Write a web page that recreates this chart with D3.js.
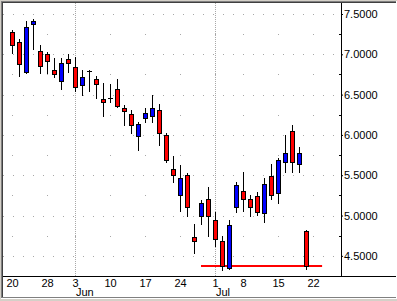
<!DOCTYPE html>
<html>
<head>
<meta charset="utf-8">
<script src="https://cdn.jsdelivr.net/npm/d3@7"></script>
<style>
  body { margin: 0; background: #d4d0c8; }
  svg { display: block; }
  text { font-family: Arial, "Liberation Sans", sans-serif; font-size: 11px; fill: #000; }
</style>
</head>
<body>
<div id="wrapper"></div>
<script>
// trading days, May 20 .. Jul 19
const dates = ["May 20","May 21","May 22","May 23","May 24","May 28","May 29","May 30","May 31",
  "Jun 3","Jun 4","Jun 5","Jun 6","Jun 7","Jun 10","Jun 11","Jun 12","Jun 13","Jun 14",
  "Jun 17","Jun 18","Jun 19","Jun 20","Jun 21","Jun 24","Jun 25","Jun 26","Jun 27","Jun 28",
  "Jul 1","Jul 2","Jul 3","Jul 5","Jul 8","Jul 9","Jul 10","Jul 11","Jul 12",
  "Jul 15","Jul 16","Jul 17","Jul 18","Jul 19"];
const opens  = [7.28,7.15,6.78,7.38,7.04,7.01,6.80,6.67,6.94, 6.84,6.62,6.79,6.69,6.45,6.46,6.57,6.34,6.26,5.99,
  6.21,6.23,6.31,6.00,5.58,5.26,5.50,4.73,5.00,5.21, 4.95,4.69,4.35,5.10,5.31,5.20,5.24,5.03,5.49,
  5.28,5.66,6.05,5.64,4.81];
const highs  = [7.30,7.19,7.41,7.44,7.12,7.03,6.95,6.95,7.00, 6.97,6.81,6.81,6.73,6.65,6.63,6.69,6.37,6.31,6.16,
  6.33,6.50,6.38,6.03,5.74,5.63,5.53,4.90,5.19,5.35, 5.04,4.75,4.94,5.41,5.54,5.25,5.29,5.47,5.64,
  5.71,6.00,6.12,5.85,4.82];
const lows   = [7.02,6.73,6.77,7.07,6.77,6.77,6.72,6.57,6.78, 6.54,6.50,6.55,6.46,6.23,6.41,6.35,6.12,6.03,5.81,
  6.16,6.16,5.87,5.66,5.41,5.06,4.99,4.53,4.90,4.75, 4.62,4.33,4.34,5.04,5.06,4.99,5.01,4.92,5.21,
  5.16,5.54,5.54,5.54,4.34];
const closes = [7.11,6.88,7.34,7.41,6.85,6.92,6.75,6.89,6.89, 6.60,6.72,6.79,6.63,6.41,6.46,6.36,6.30,6.12,6.13,
  6.27,6.34,6.02,5.69,5.50,5.47,5.10,4.69,5.15,5.00, 4.71,4.37,4.88,5.38,5.20,5.10,5.04,5.39,5.26,
  5.69,5.78,5.67,5.78,4.38];

// axis labels
const yTicks = [4.5, 5.0, 5.5, 6.0, 6.5, 7.0, 7.5];
const yMinor = [4.75, 5.25, 5.75, 6.25, 6.75, 7.25];
const weekIdx = [0, 5, 9, 14, 19, 24, 29, 33, 38, 43];   // 43 = Jul 22 (no bar yet)
const weekLabels = ["20", "28", "3", "10", "17", "24", "1", "8", "15", "22"];
const monthIdx = [9, 29];
const monthLabels = ["Jun", "Jul"];

// drawn support line
const supportLevel = 4.375;
const supportFrom = 27, supportTo = 44.3;

const width = 397, height = 301;
const plot = { left: 3, right: 341, top: 3, bottom: 276 };

const svg = d3.select("#wrapper").append("svg")
  .attr("width", width).attr("height", height);

// window-style sunken frame
svg.append("rect").attr("width", width).attr("height", height).attr("fill", "#d4d0c8");
svg.append("rect").attr("x", 1).attr("y", 1).attr("width", 396).attr("height", 298).attr("fill", "#fff");
svg.append("rect").attr("x", 1).attr("y", 1).attr("width", 395).attr("height", 297).attr("fill", "#808080");
svg.append("rect").attr("x", 2).attr("y", 2).attr("width", 394).attr("height", 295).attr("fill", "#404040");
svg.append("rect").attr("x", 3).attr("y", 3).attr("width", 393).attr("height", 294).attr("fill", "#fff");

const x = d3.scaleLinear().domain([-9 / 7, 47]).range([plot.left, plot.right]);
const y = d3.scaleLinear().domain([4.25, 7.5]).range([plot.bottom, 14]);
const px = (v) => Math.round(v) + 0.5;

const grid = svg.append("g").attr("stroke", "#a8a8a8").attr("shape-rendering", "crispEdges");

// major horizontal rows
grid.selectAll(".hmaj").data(yTicks).join("line")
  .attr("x1", plot.left).attr("x2", plot.right)
  .attr("y1", (d) => px(y(d))).attr("y2", (d) => px(y(d)))
  .attr("stroke-dasharray", "1,9");

// month separators
grid.selectAll(".vmon").data(monthIdx).join("line")
  .attr("x1", (d) => px(x(d))).attr("x2", (d) => px(x(d)))
  .attr("y1", plot.top).attr("y2", plot.bottom)
  .attr("stroke-dasharray", "1,1");

// weekly dots on the quarter rows
const dots = [];
weekIdx.forEach((w) => yMinor.forEach((v) => dots.push([w, v])));
svg.append("g").selectAll("rect").data(dots).join("rect")
  .attr("x", (d) => Math.round(x(d[0]))).attr("y", (d) => Math.round(y(d[1])))
  .attr("width", 1).attr("height", 1).attr("fill", "#a8a8a8");

// support line
svg.append("line")
  .attr("x1", x(supportFrom)).attr("x2", x(supportTo))
  .attr("y1", y(supportLevel)).attr("y2", y(supportLevel))
  .attr("stroke", "#ff0000").attr("stroke-width", 2);

// candles
const bars = svg.append("g").attr("shape-rendering", "crispEdges");
const idx = d3.range(dates.length);

bars.selectAll(".wick").data(idx).join("line")
  .attr("x1", (i) => px(x(i))).attr("x2", (i) => px(x(i)))
  .attr("y1", (i) => Math.round(y(highs[i]))).attr("y2", (i) => Math.round(y(lows[i])) + 1)
  .attr("stroke", "#000");

bars.selectAll(".body").data(idx.filter((i) => Math.abs(opens[i] - closes[i]) > 0.005)).join("rect")
  .attr("x", (i) => Math.round(x(i)) - 1.5)
  .attr("y", (i) => px(y(Math.max(opens[i], closes[i]))))
  .attr("width", 4)
  .attr("height", (i) => Math.max(1, Math.round(y(Math.min(opens[i], closes[i]))) - Math.round(y(Math.max(opens[i], closes[i])))))
  .attr("fill", (i) => (closes[i] > opens[i] ? "#0000ff" : "#ff0000"))
  .attr("stroke", "#000");

bars.selectAll(".doji").data(idx.filter((i) => Math.abs(opens[i] - closes[i]) <= 0.005)).join("line")
  .attr("x1", (i) => Math.round(x(i)) - 2).attr("x2", (i) => Math.round(x(i)) + 3)
  .attr("y1", (i) => px(y(opens[i]))).attr("y2", (i) => px(y(opens[i])))
  .attr("stroke", "#000");

// axes
const yAxis = svg.append("g")
  .attr("transform", `translate(${plot.right},0)`)
  .call(d3.axisRight(y).tickValues(yTicks).tickSize(2).tickPadding(1).tickFormat(d3.format(".4f")));
yAxis.select(".domain").remove();
yAxis.selectAll("text").style("font-family", "Arial, 'Liberation Sans', sans-serif").style("font-size", "11px");

svg.append("g").selectAll("line").data(yMinor).join("line")
  .attr("x1", plot.right - 2).attr("x2", plot.right)
  .attr("y1", (d) => px(y(d))).attr("y2", (d) => px(y(d)))
  .attr("stroke", "#000").attr("shape-rendering", "crispEdges");

const xAxis = svg.append("g")
  .attr("transform", `translate(0,${plot.bottom})`)
  .call(d3.axisBottom(x).tickValues(weekIdx).tickSize(0).tickPadding(3)
    .tickFormat((d, i) => weekLabels[i]));
xAxis.select(".domain").remove();
xAxis.selectAll("text").style("font-family", "Arial, 'Liberation Sans', sans-serif").style("font-size", "11px");

svg.selectAll(".month").data(monthIdx).join("text")
  .attr("x", (d) => x(d) + 1).attr("y", 296)
  .text((d, i) => monthLabels[i]);

// axis lines
svg.append("line").attr("x1", plot.left).attr("x2", 396)
  .attr("y1", plot.bottom + 0.5).attr("y2", plot.bottom + 0.5).attr("stroke", "#000");
svg.append("line").attr("x1", plot.right + 0.5).attr("x2", plot.right + 0.5)
  .attr("y1", plot.top).attr("y2", plot.bottom).attr("stroke", "#000");
</script>
</body>
</html>
